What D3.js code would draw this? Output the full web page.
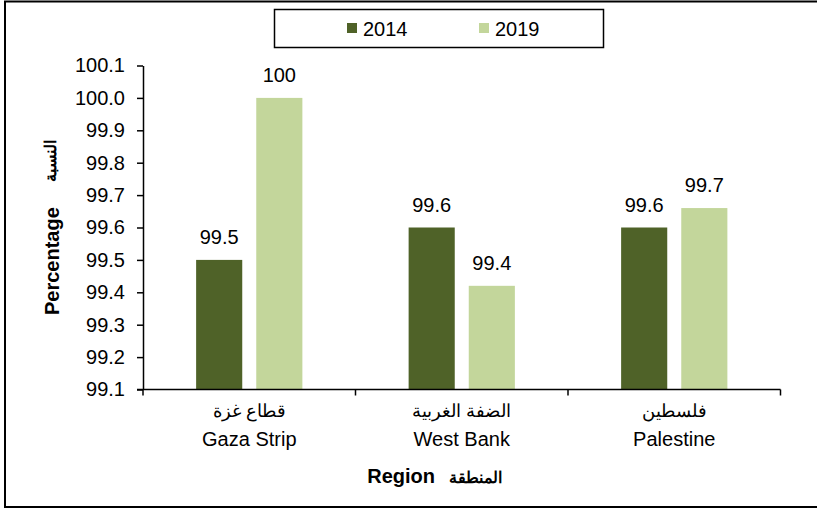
<!DOCTYPE html>
<html>
<head>
<meta charset="utf-8">
<script src="https://cdn.jsdelivr.net/npm/d3@7"></script>
<style>
  body { margin: 0; background: #fff; }
  svg { display: block; font-family: Arial, "Liberation Sans", sans-serif; }
</style>
</head>
<body>
<svg id="chart"></svg>
<script>
const width = 817
const height = 510

// data
const regionsEn = ['Gaza Strip', 'West Bank', 'Palestine']
const regionsAr = ['قطاع غزة', 'الضفة الغربية', 'فلسطين']
const years = ['2014', '2019']
const values2014 = [99.5, 99.6, 99.6]
const values2019 = [100.0, 99.42, 99.66]
const yTicks = [99.1, 99.2, 99.3, 99.4, 99.5, 99.6, 99.7, 99.8, 99.9, 100.0, 100.1]
const colours = ['#4f6228', '#c3d69b']

const data = regionsEn.map((r, i) => ({
    region: r,
    ar: regionsAr[i],
    values: [
        {year: years[0], value: values2014[i]},
        {year: years[1], value: values2019[i]}
    ]
}))

const svg = d3.select('#chart')
    .attr('width', width)
    .attr('height', height)

// outer frame (right side falls outside the picture)
svg.append('rect')
    .attr('x', 5).attr('y', 1.5)
    .attr('width', 830).attr('height', 505.5)
    .attr('fill', 'none')
    .attr('stroke', '#000')
    .attr('stroke-width', 2)

// scales
const x = d3.scaleBand()
    .domain(regionsEn)
    .range([143, 780.5])

const xSub = d3.scaleBand()
    .domain(years)
    .range([x.bandwidth() * 0.25, x.bandwidth() * 0.75])
    .paddingInner(0.233)

const y = d3.scaleLinear()
    .domain([99.1, 100.1])
    .range([389.5, 65.5])

const colour = d3.scaleOrdinal().domain(years).range(colours)

// bars
const groups = svg.append('g')
    .selectAll('g')
    .data(data)
    .join('g')
    .attr('transform', d => `translate(${x(d.region)},0)`)

groups.selectAll('rect')
    .data(d => d.values)
    .join('rect')
    .attr('x', d => xSub(d.year))
    .attr('y', d => y(d.value))
    .attr('width', xSub.bandwidth())
    .attr('height', d => y(99.1) - y(d.value))
    .attr('fill', d => colour(d.year))

// value labels
const fmtLabel = v => String(Number(v.toFixed(1)))
groups.selectAll('text')
    .data(d => d.values)
    .join('text')
    .attr('x', d => xSub(d.year) + xSub.bandwidth() / 2)
    .attr('y', d => y(d.value) - 16)
    .attr('text-anchor', 'middle')
    .style('font-size', '20px')
    .attr('fill', '#000')
    .text(d => fmtLabel(d.value))

// y axis
const yAxis = d3.axisLeft(y)
    .tickValues(yTicks)
    .tickFormat(d3.format('.1f'))
    .tickSize(6)
    .tickSizeOuter(0)
const gy = svg.append('g')
    .attr('transform', 'translate(143,0)')
    .call(yAxis)
gy.selectAll('path, line').attr('stroke', '#000').attr('stroke-width', 1.5)
gy.selectAll('text')
    .attr('x', -18)
    .style('font-size', '20px')
    .style('font-family', 'Arial, "Liberation Sans", sans-serif')
    .attr('fill', '#000')

// x axis: ticks between categories
const xAxisG = svg.append('g')
xAxisG.append('line')
    .attr('x1', 137).attr('x2', x.range()[1])
    .attr('y1', y(99.1)).attr('y2', y(99.1))
    .attr('stroke', '#000').attr('stroke-width', 1.5)
const boundaries = regionsEn.map(r => x(r)).concat([x.range()[1]])
xAxisG.selectAll('line.tick')
    .data(boundaries)
    .join('line')
    .attr('class', 'tick')
    .attr('x1', d => d).attr('x2', d => d)
    .attr('y1', y(99.1)).attr('y2', y(99.1) + 6)
    .attr('stroke', '#000').attr('stroke-width', 1.5)

// category labels (Arabic over English)
const catLabels = svg.append('g')
    .selectAll('g')
    .data(data)
    .join('g')
    .attr('transform', d => `translate(${x(d.region) + x.bandwidth() / 2},0)`)
catLabels.append('text')
    .attr('y', 417)
    .attr('text-anchor', 'middle')
    .style('font-size', '18px')
    .text(d => d.ar)
catLabels.append('text')
    .attr('y', 446)
    .attr('text-anchor', 'middle')
    .style('font-size', '20px')
    .text(d => d.region)

// x axis title
svg.append('text')
    .attr('x', 435).attr('y', 483)
    .attr('text-anchor', 'end')
    .style('font-size', '20px')
    .style('font-weight', 'bold')
    .text('Region')
svg.append('text')
    .attr('x', 449).attr('y', 483)
    .attr('text-anchor', 'start')
    .style('font-size', '16px')
    .style('font-weight', 'bold')
    .text('المنطقة')

// y axis title
svg.append('text')
    .attr('transform', 'translate(59,315) rotate(-90)')
    .attr('text-anchor', 'start')
    .style('font-size', '20px')
    .style('font-weight', 'bold')
    .text('Percentage')
svg.append('text')
    .attr('transform', 'translate(56,182) rotate(-90)')
    .attr('text-anchor', 'start')
    .style('font-size', '16px')
    .style('font-weight', 'bold')
    .text('النسبة')

// legend
const legend = svg.append('g')
legend.append('rect')
    .attr('x', 274.5).attr('y', 9.5)
    .attr('width', 329).attr('height', 38)
    .attr('fill', 'none')
    .attr('stroke', '#000')
    .attr('stroke-width', 1.5)
const legendX = [347, 479]
const items = legend.selectAll('g.item')
    .data(years)
    .join('g')
    .attr('class', 'item')
    .attr('transform', (d, i) => `translate(${legendX[i]},23)`)
items.append('rect')
    .attr('width', 10).attr('height', 10)
    .attr('fill', d => colour(d))
items.append('text')
    .attr('x', 16).attr('y', 13)
    .style('font-size', '20px')
    .text(d => d)
</script>
</body>
</html>
